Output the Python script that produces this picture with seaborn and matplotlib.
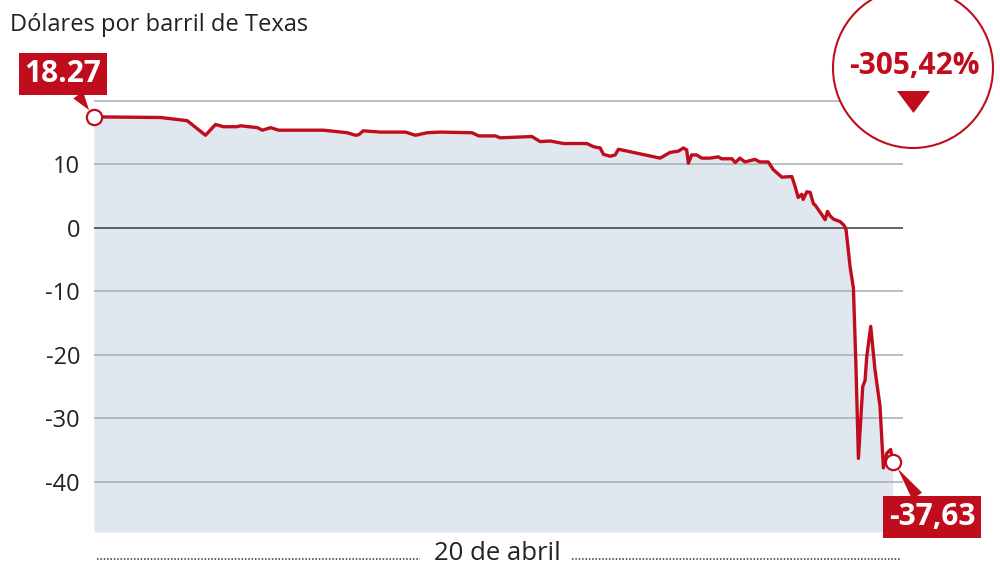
import matplotlib
matplotlib.use("Agg")
import matplotlib.pyplot as plt
from matplotlib.patches import Circle, Polygon
import numpy as np
import pandas as pd
import seaborn as sns

# ---- data ----
horas = [0.00, 2.00, 2.80, 3.35, 3.65, 3.89, 4.30, 4.40, 4.91, 5.06, 5.31, 5.55,
         6.90, 7.61, 7.86, 7.96, 8.09, 8.61, 9.36, 9.66, 10.01, 10.41, 11.36, 11.56,
         12.06, 12.21, 13.16, 13.41, 13.71, 14.11, 14.81, 15.01, 15.21, 15.31, 15.51,
         15.66, 15.76, 17.01, 17.31, 17.56, 17.71, 17.81, 17.86, 17.96, 18.11, 18.26,
         18.51, 18.76, 18.86, 19.17, 19.27, 19.41, 19.56, 19.86, 20.01, 20.26, 20.41,
         20.67, 20.97, 21.07, 21.16, 21.27, 21.31, 21.42, 21.52, 21.62, 21.67, 21.87,
         21.97, 22.04, 22.12, 22.22, 22.42, 22.54, 22.60, 22.72, 22.82, 22.90, 22.97,
         23.10, 23.17, 23.22, 23.34, 23.47, 23.62, 23.72, 23.82, 23.94, 24.00]
precio = [17.5, 17.4, 16.9, 14.6, 16.3, 15.95, 15.95, 16.1, 15.8, 15.4, 15.8, 15.4,
          15.4, 15.0, 14.6, 14.7, 15.3, 15.1, 15.1, 14.6, 15.0, 15.1, 15.0, 14.5,
          14.5, 14.2, 14.4, 13.6, 13.7, 13.3, 13.3, 12.8, 12.6, 11.6, 11.3,
          11.5, 12.4, 11.0, 11.9, 12.1, 12.6, 12.3, 10.2, 11.5, 11.5, 11.0,
          11.0, 11.2, 10.9, 10.9, 10.3, 11.0, 10.4, 10.8, 10.4, 10.4, 9.2,
          8.0, 8.1, 6.5, 4.8, 5.3, 4.5, 5.7, 5.6, 3.8, 3.6, 2.1,
          1.3, 2.6, 1.9, 1.4, 1.0, 0.4, -0.3, -6.1, -9.5, -22.4, -36.3,
          -25.0, -24.0, -20.3, -15.5, -22.4, -28.1, -37.8, -35.5, -34.9, -36.8]
ticks_y = [10, 0, -10, -20, -30, -40]
grid_y = [20, 10, -10, -20, -30, -40]
titulo = "Dólares por barril de Texas"
etiqueta_inicio = "18.27"
etiqueta_final = "-37,63"
variacion = "-305,42%"
fecha = "20 de abril"

ROJO = "#c00d1e"

sns.set_theme(style="white")
plt.rcParams['font.family'] = ['Open Sans', 'DejaVu Sans']

fig = plt.figure(figsize=(10, 5.67), dpi=100)
ax = fig.add_axes([0.094, 1 - 532 / 567, (903 - 94) / 1000, (532 - 94.65) / 567])
ov = fig.add_axes([0, 0, 1, 1], zorder=5)
ov.set_xlim(0, 1000)
ov.set_ylim(567, 0)
ov.axis('off')
ov.patch.set_alpha(0)

df = pd.DataFrame({'hora': horas, 'precio': precio})
ymin = -47.9
ax.fill_between(df['hora'], df['precio'], ymin, color='#e1e7ee', lw=0, zorder=0)
for g in grid_y:
    ax.axhline(g, color='#a9adb1', lw=1.1, zorder=1)
ax.axhline(0, color='#3a3a3a', lw=1.1, zorder=1)
sns.lineplot(data=df, x='hora', y='precio', color=ROJO, lw=2.4, ax=ax, zorder=3)
for ln in ax.get_lines()[-1:]:
    ln.set_solid_joinstyle('round')
    ln.set_solid_capstyle('round')
ax.plot([horas[0], horas[-1]], [precio[0], precio[-1]], 'o', ms=11, mfc='white',
        mec=ROJO, mew=1.6, clip_on=False, zorder=4)
ax.set_xlim(0, 24.31)
ax.set_ylim(ymin, 21)
ax.set_yticks(ticks_y)
ax.set_yticklabels([str(t) for t in ticks_y])
ax.tick_params(axis='y', length=0, pad=10, labelsize=17, colors='#222222')
ax.set_xticks([])
ax.set_xlabel('')
ax.set_ylabel('')
sns.despine(ax=ax, left=True, bottom=True, top=True, right=True)

# callouts
ax.annotate(etiqueta_inicio, xy=(horas[0], precio[0]), xytext=(63, 74),
            textcoords=ov.transData, ha='center', va='center', fontsize=21.5,
            weight='bold', color='white', zorder=6, annotation_clip=False,
            bbox=dict(boxstyle='square,pad=0.2', fc=ROJO, ec='none'),
            arrowprops=dict(arrowstyle='wedge,tail_width=0.4', fc=ROJO, ec='none',
                            shrinkA=0, shrinkB=6))
ax.annotate(etiqueta_final, xy=(horas[-1], precio[-1]), xytext=(932, 517),
            textcoords=ov.transData, ha='center', va='center', fontsize=21.5,
            weight='bold', color='white', zorder=6, annotation_clip=False,
            bbox=dict(boxstyle='square,pad=0.2', fc=ROJO, ec='none'),
            arrowprops=dict(arrowstyle='wedge,tail_width=0.4', fc=ROJO, ec='none',
                            shrinkA=0, shrinkB=6))

# overlay text / shapes
ov.text(10, 25, titulo, ha='left', va='center', fontsize=17, color='#222222')
ov.add_patch(Circle((913, 68), 80, fc='white', ec=ROJO, lw=1.5))
ov.text(914, 66, variacion, ha='center', va='center', fontsize=21.5, weight='bold', color=ROJO)
ov.add_patch(Polygon([(897, 91), (930, 91), (913.5, 113)], closed=True, fc=ROJO, ec='none'))
ov.text(497, 541, fecha, ha='center', va='top', fontsize=18.5, color='#222222')
ov.plot([97, 420], [559, 559], color='#333333', lw=1.1, ls=(0, (1, 1.2)))
ov.plot([572, 900], [559, 559], color='#333333', lw=1.1, ls=(0, (1, 1.2)))

fig.savefig('out.png', dpi=100)
